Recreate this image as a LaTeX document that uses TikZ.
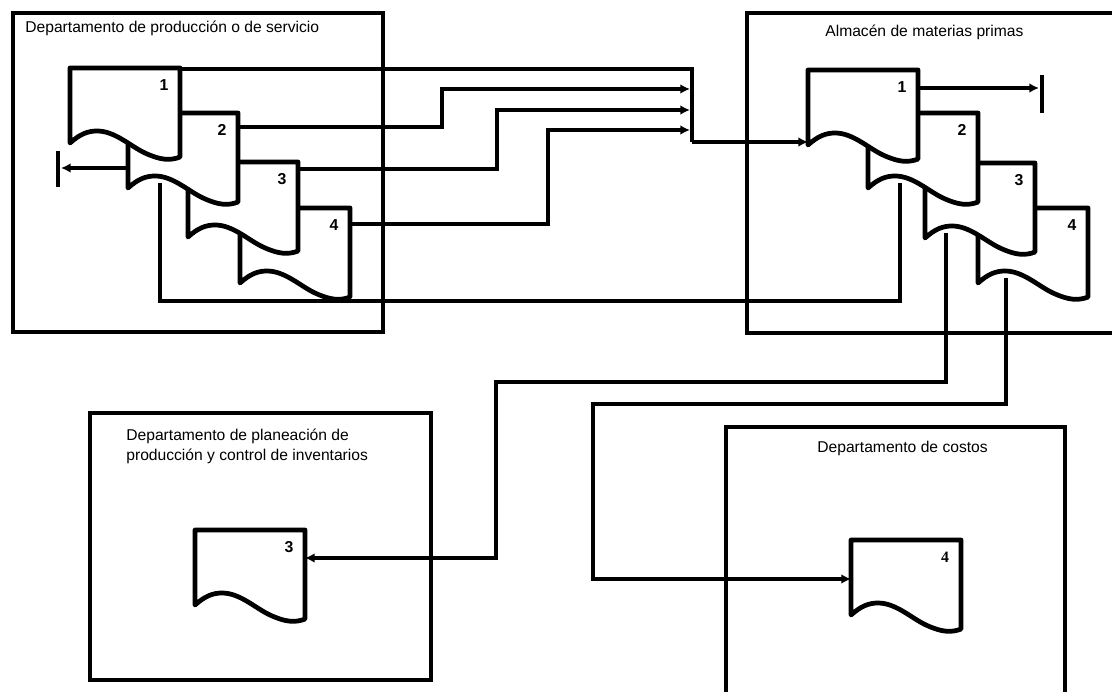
\documentclass[tikz,border=0pt]{standalone}
\usepackage{fontspec}
\setmainfont{Liberation Sans}
\newfontfamily\numserif{Liberation Serif}
\usetikzlibrary{arrows.meta,calc,backgrounds}

\tikzset{
  frame/.style={line width=2.8pt},
  docline/.style={line width=2.7pt,fill=white,line join=round},
  conn/.style={line width=2.1pt},
  flecha/.style={conn,-{Latex[length=5.5pt,width=5.5pt]}},
  tope/.style={line width=2.8pt},
  titulo/.style={inner sep=0pt,font=\fontsize{8.9}{11.3}\selectfont,align=left},
  docnum/.style={font=\fontsize{9}{10}\selectfont\bfseries,inner sep=0pt}
}

% document symbol: #1 name, #2 top-left corner, #3 number
\newcommand{\docu}[3]{%
  \begin{scope}[shift={(#2)}]
    \draw[docline] (0,0) -- (110,0) -- (110,89)
      .. controls (100,93) and (90,92) .. (75,85)
      .. controls (60,78) and (45,63) .. (27,63)
      .. controls (18,63) and (10,66) .. (0,75) -- cycle;
    \coordinate (#1-nw) at (0,0);
    \coordinate (#1-ne) at (110,0);
    \node[docnum] (#1) at (94,17) {#3};
  \end{scope}}

\begin{document}
\begin{tikzpicture}[x=0.02cm,y=-0.02cm]
  \useasboundingbox (0,0) rectangle (1112,692);
  \clip (0,0) rectangle (1112,692);

  % Department frames
  \draw[frame] (13,13) rectangle (383,332);
  \draw[frame] (747,13) rectangle (1130,333);
  \draw[frame] (90,413) rectangle (431,680);
  \draw[frame] (726,427) rectangle (1065,710);

  % Titles
  \node[titulo,anchor=base west] (tA) at (25,33) {Departamento de producción o de servicio};
  \node[titulo,anchor=base west] (tB) at (825,37) {Almacén de materias primas};
  \node[titulo,anchor=north west] (tC) at (126,429) {Departamento de planeación de\\producción y control de inventarios};
  \node[titulo,anchor=base west] (tD) at (817,452) {Departamento de costos};

  % Document sets (drawn back to front)
  \docu{d4A}{240,208}{4}
  \docu{d3A}{188,162}{3}
  \docu{d2A}{128,113}{2}
  \docu{d1A}{70,68}{1}

  \docu{d4B}{978,208}{4}
  \docu{d3B}{925,163}{3}
  \docu{d2B}{868,113}{2}
  \docu{d1B}{808,70}{1}

  \docu{d3C}{195,530}{3}
  \docu{d4D}{851,540}{{\numserif 4}}

  \begin{scope}[on background layer]
    % Copies to the store
    \coordinate (jn) at (692,142);
    \draw[conn] ($(d1A-ne)+(-5,1)$) -| (jn);
    \draw[flecha] ($(d2A-ne)+(0,14)$) -| (442,89) -- (690,89);
    \draw[flecha] ($(d3A-ne)+(0,7)$) -| (497,110) -- (690,110);
    \draw[flecha] ($(d4A-ne)+(0,16)$) -| (548,130) -- (690,130);
    \draw[flecha] (jn) -- ($(d1B-nw)+(0,72)$);

    % Filed copies
    \coordinate (finA) at (61,168);
    \draw[flecha] ($(d2A-nw)+(0,55)$) -- (finA);
    \draw[tope] ($(finA)+(-3,-17)$) -- ($(finA)+(-3,19)$);
    \coordinate (finB) at (1039,88);
    \draw[flecha] ($(d1B-ne)+(0,18)$) -- (finB);
    \draw[tope] ($(finB)+(3,-13)$) -- ($(finB)+(3,25)$);

    % Copy 2 returns, copies 3 and 4 go on
    \draw[conn] ($(d2A-nw)+(32,70)$) -- (160,301) -| ($(d2B-nw)+(32,70)$);
    \draw[flecha] ($(d3B-nw)+(21,70)$) |- (496,382) |- ($(d3C-ne)+(0,28)$);
    \draw[flecha] ($(d4B-nw)+(28,70)$) |- (593,404) |- ($(d4D-nw)+(0,39)$);
  \end{scope}
\end{tikzpicture}
\end{document}
